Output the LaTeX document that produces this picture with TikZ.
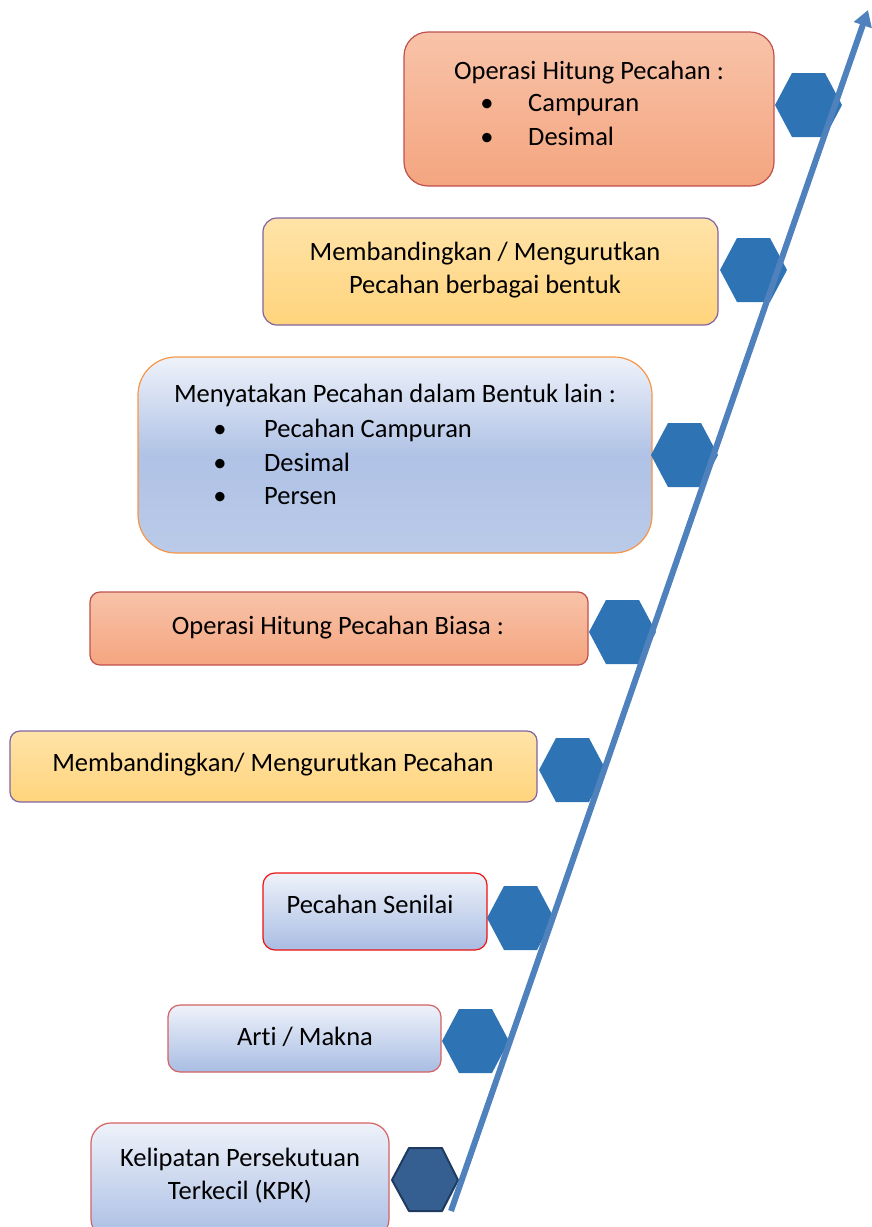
\documentclass[tikz,border=0pt]{standalone}
\usepackage{fontspec}
\setmainfont[Ligatures=NoCommon]{Carlito}
\usetikzlibrary{arrows.meta}
\definecolor{salT}{HTML}{F8C3A9}
\definecolor{salB}{HTML}{F4A57F}
\definecolor{yelT}{HTML}{FFE3A8}
\definecolor{yelB}{HTML}{FFD47C}
\definecolor{bluT}{HTML}{EEF2FA}
\definecolor{bluB}{HTML}{A9BDE3}
\definecolor{redB}{HTML}{C0504D}
\definecolor{redR}{HTML}{F01010}
\definecolor{redS}{HTML}{D46262}
\definecolor{purB}{HTML}{8064A2}
\definecolor{oraB}{HTML}{F79646}
\definecolor{hexF}{HTML}{2E74B5}
\definecolor{hexD}{HTML}{365F91}
\definecolor{hexE}{HTML}{1F3A5F}
\definecolor{arrC}{HTML}{4F81BD}
\tikzset{
  box/.style={inner sep=0pt, line width=1.2pt},
  salbox/.style={box, top color=salT, bottom color=salB, draw=redB},
  yelbox/.style={box, top color=yelT, bottom color=yelB, draw=purB},
  blubox/.style={box, top color=bluT, bottom color=bluB},
  txt/.style={font=\fontsize{26.5}{30}\selectfont, inner sep=0pt, anchor=base},
  ltxt/.style={txt, anchor=base west},
  hexfill/.style={fill=hexF, draw=none},
}
\newcommand{\hexat}[2]{%
  \path[hexfill] (#1-33,#2) -- (#1-16,#2-32) -- (#1+17,#2-32) -- (#1+34,#2) -- (#1+17,#2+32) -- (#1-16,#2+32) -- cycle;}
\begin{document}
\begin{tikzpicture}[x=1pt,y=-1pt]
\useasboundingbox (0,0) rectangle (872,1227);
% boxes
\node[salbox, rounded corners=24pt, minimum width=370pt, minimum height=154pt] (b1) at (589,109) {};
\node[yelbox, rounded corners=14pt, minimum width=455pt, minimum height=107pt] (b2) at (490.5,271.5) {};
\node[blubox, draw=oraB, rounded corners=38pt, minimum width=514pt, minimum height=196pt, top color=bluT, bottom color=bluB!80!white, middle color=bluB!90!bluT] (b3) at (395,455) {};
\node[salbox, rounded corners=10pt, minimum width=498pt, minimum height=73pt] (b4) at (339,628.5) {};
\node[yelbox, rounded corners=10pt, minimum width=527pt, minimum height=71pt] (b5) at (273.5,766.5) {};
\node[blubox, draw=redR, rounded corners=12pt, minimum width=224pt, minimum height=77pt] (b6) at (375,911.5) {};
\node[blubox, draw=redS, rounded corners=12pt, minimum width=273pt, minimum height=67pt] (b7) at (304.5,1038.5) {};
\node[blubox, draw=redS, rounded corners=20pt, minimum width=298pt, minimum height=116pt] (b8) at (240,1181) {};
% texts
\node[txt] (t1) at (589,79) {Operasi Hitung Pecahan :};
\node[txt] (t1a) at (487,111) {•};
\node[txt] (t1b) at (487,145) {•};
\node[ltxt] (t1c) at (528,111) {Campuran};
\node[ltxt] (t1d) at (528,145) {Desimal};
\node[txt] (t2a) at (485,260) {Membandingkan / Mengurutkan};
\node[txt] (t2b) at (485,293) {Pecahan berbagai bentuk};
\node[txt] (t3) at (395,402) {Menyatakan Pecahan dalam Bentuk lain :};
\node[txt] (t3a) at (220,437) {•};
\node[txt] (t3b) at (220,471) {•};
\node[txt] (t3c) at (220,504) {•};
\node[ltxt] (t3d) at (264,437) {Pecahan Campuran};
\node[ltxt] (t3e) at (264,471) {Desimal};
\node[ltxt] (t3f) at (264,504) {Persen};
\node[txt] (t4) at (338,634) {Operasi Hitung Pecahan Biasa :};
\node[txt] (t5) at (273,771) {Membandingkan/ Mengurutkan Pecahan};
\node[txt] (t6) at (370,913) {Pecahan Senilai};
\node[txt] (t7) at (305,1045) {Arti / Makna};
\node[txt] (t8a) at (240,1166) {Kelipatan Persekutuan};
\node[txt] (t8b) at (240,1199) {Terkecil (KPK)};
% hexagons
\hexat{808}{105}
\hexat{753}{270}
\hexat{684}{455}
\hexat{622}{632}
\hexat{572}{770}
\hexat{520}{918}
\hexat{475}{1041}
\path[fill=hexD, draw=hexE, line width=2pt, line join=round] (392,1180) -- (409,1148) -- (442,1148) -- (458,1180) -- (442,1211) -- (409,1211) -- cycle;
% arrow
\coordinate (s) at (451,1211);
\coordinate (e) at (868,10);
\draw[arrC, line width=6pt, -{Triangle[length=16pt,width=18pt]}] (s) -- (e);
\end{tikzpicture}
\end{document}
